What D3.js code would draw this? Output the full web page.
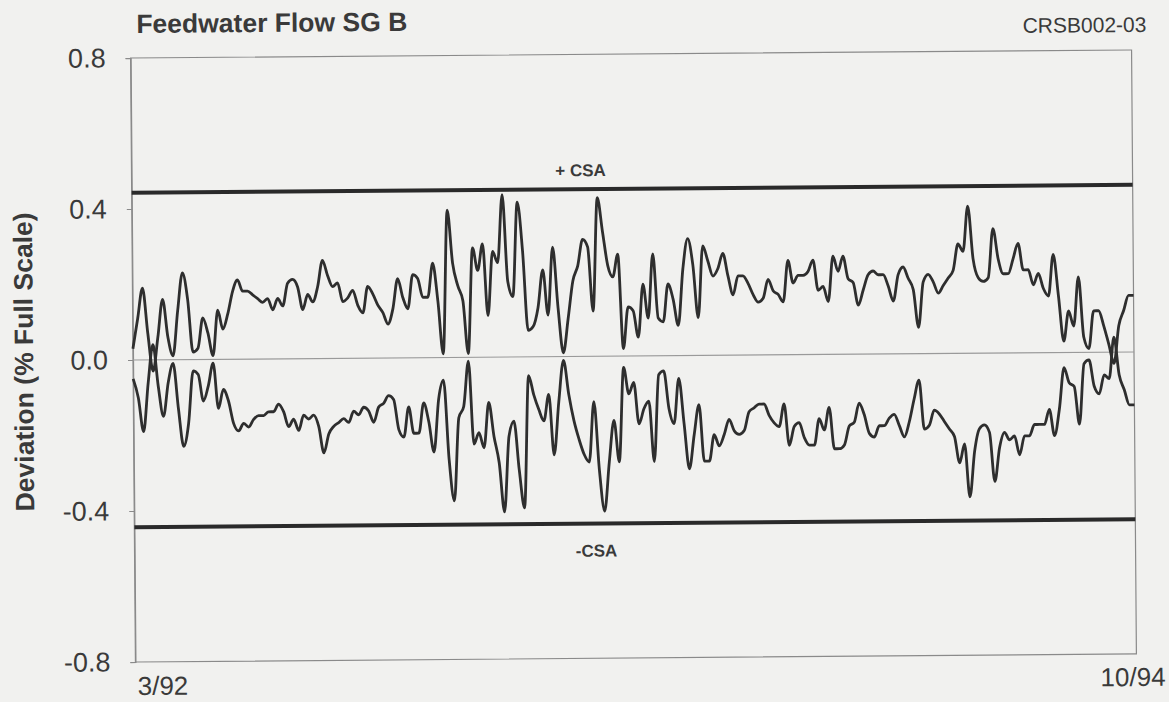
<!DOCTYPE html>
<html>
<head>
<meta charset="utf-8">
<script src="https://cdn.jsdelivr.net/npm/d3@7"></script>
<style>
  body { margin: 0; background: #f1f1ef; }
  text { font-family: "Liberation Sans", Arial, sans-serif; fill: #3a3a3a; }
</style>
</head>
<body>
<div id="chart"></div>
<script>
// chart data (equal spaced samples 3/92 .. 10/94)
var title = "Feedwater Flow SG B";
var docId = "CRSB002-03";
var yTitle = "Deviation (% Full Scale)";
var xLabels = ["3/92", "10/94"];
var yTicks = [0.8, 0.4, 0.0, -0.4, -0.8];
var yTickLabels = ["0.8", "0.4", "0.0", "-0.4", "-0.8"];
var csa = 0.443;
var csaLabels = ["+ CSA", "-CSA"];

var upper = [
  0.03, 0.11, 0.19, 0.07, -0.03, 0.06, 0.16, 0.06, 0.01, 0.13, 0.23, 0.16, 0.02, 0.03, 0.11, 0.07, 0.01,
  0.13, 0.08, 0.12, 0.18, 0.21, 0.18, 0.18, 0.17, 0.16, 0.15, 0.16, 0.13, 0.16, 0.14, 0.20, 0.21, 0.19,
  0.13, 0.17, 0.15, 0.19, 0.26, 0.22, 0.19, 0.20, 0.15, 0.16, 0.18, 0.14, 0.12, 0.19, 0.17, 0.14, 0.12,
  0.09, 0.13, 0.21, 0.16, 0.13, 0.22, 0.21, 0.16, 0.16, 0.25, 0.15, 0.01, 0.39, 0.25, 0.19, 0.15, 0.01,
  0.29, 0.23, 0.30, 0.11, 0.28, 0.25, 0.43, 0.20, 0.16, 0.41, 0.28, 0.07, 0.08, 0.13, 0.23, 0.11,
  0.29, 0.13, 0.01, 0.10, 0.20, 0.24, 0.31, 0.29, 0.12, 0.42, 0.33, 0.24, 0.21, 0.27, 0.02, 0.13,
  0.12, 0.05, 0.19, 0.10, 0.27, 0.10, 0.09, 0.19, 0.15, 0.08, 0.23, 0.31, 0.24, 0.10, 0.29, 0.25, 0.21,
  0.23, 0.27, 0.21, 0.16, 0.21, 0.21, 0.19, 0.16, 0.14, 0.15, 0.20, 0.17, 0.16, 0.14, 0.25, 0.19, 0.21,
  0.21, 0.22, 0.25, 0.17, 0.18, 0.14, 0.26, 0.22, 0.26, 0.20, 0.19, 0.13, 0.17, 0.21, 0.22, 0.21, 0.21,
  0.18, 0.14, 0.21, 0.23, 0.20, 0.17, 0.07, 0.19, 0.21, 0.19, 0.16, 0.18, 0.20, 0.22, 0.29, 0.27, 0.39,
  0.25, 0.20, 0.19, 0.20, 0.33, 0.25, 0.21, 0.21, 0.25, 0.29, 0.22, 0.22, 0.18, 0.21, 0.17, 0.15, 0.26,
  0.15, 0.03, 0.11, 0.07, 0.20, 0.04, 0.01, 0.11, 0.11, 0.07, 0.02, -0.03, 0.07, 0.11, 0.15, 0.15
];

var lower = [
  -0.05, -0.10, -0.19, -0.06, 0.04, -0.07, -0.15, -0.06, -0.01, -0.13, -0.23, -0.17, -0.03, -0.04, -0.11, -0.07, -0.01,
  -0.13, -0.08, -0.11, -0.17, -0.19, -0.17, -0.18, -0.16, -0.15, -0.15, -0.14, -0.14, -0.12, -0.14, -0.18, -0.16, -0.19,
  -0.15, -0.16, -0.15, -0.18, -0.25, -0.20, -0.18, -0.17, -0.16, -0.17, -0.14, -0.15, -0.13, -0.14, -0.17, -0.13, -0.12,
  -0.10, -0.11, -0.19, -0.21, -0.13, -0.20, -0.20, -0.12, -0.17, -0.25, -0.11, -0.06, -0.27, -0.38, -0.16, -0.13, -0.01,
  -0.23, -0.20, -0.24, -0.12, -0.21, -0.28, -0.41, -0.21, -0.17, -0.30, -0.40, -0.05, -0.10, -0.14, -0.17, -0.10,
  -0.26, -0.12, -0.01, -0.10, -0.17, -0.22, -0.26, -0.28, -0.12, -0.30, -0.41, -0.28, -0.17, -0.28, -0.03, -0.10,
  -0.07, -0.18, -0.14, -0.12, -0.28, -0.05, -0.04, -0.14, -0.18, -0.06, -0.18, -0.30, -0.21, -0.13, -0.28, -0.28, -0.21,
  -0.24, -0.21, -0.17, -0.20, -0.21, -0.20, -0.15, -0.14, -0.13, -0.13, -0.16, -0.18, -0.19, -0.13, -0.24, -0.19, -0.18,
  -0.22, -0.24, -0.24, -0.17, -0.20, -0.14, -0.25, -0.25, -0.24, -0.19, -0.18, -0.13, -0.16, -0.21, -0.22, -0.19, -0.19,
  -0.17, -0.16, -0.19, -0.22, -0.18, -0.12, -0.07, -0.20, -0.19, -0.15, -0.16, -0.18, -0.20, -0.22, -0.29, -0.24, -0.38,
  -0.26, -0.20, -0.19, -0.21, -0.34, -0.25, -0.21, -0.23, -0.22, -0.27, -0.22, -0.22, -0.19, -0.19, -0.19, -0.15, -0.22,
  -0.15, -0.04, -0.08, -0.09, -0.19, -0.03, -0.02, -0.09, -0.11, -0.06, -0.07, 0.04, -0.06, -0.10, -0.14, -0.14
];

// page setup
var svgWidth = 1169;
var svgHeight = 702;
var margin = {top: 54, right: 35, bottom: 44, left: 133};
var width = svgWidth - margin.left - margin.right;
var height = svgHeight - margin.top - margin.bottom;

var svg = d3.select("#chart").append("svg")
  .attr("width", svgWidth)
  .attr("height", svgHeight)
  .style("display", "block");

svg.append("rect").attr("width", svgWidth).attr("height", svgHeight).attr("fill", "#f1f1ef");

// the scanned page sits slightly skewed
var page = svg.append("g").attr("transform", "rotate(-0.46, 633, 356)");
var chartGroup = page.append("g").attr("transform", `translate(${margin.left}, ${margin.top})`);

// scales
var xScale = d3.scaleLinear().domain([0, upper.length - 1]).range([0, width]);
var yScale = d3.scaleLinear().domain([-0.8, 0.8]).range([height, 0]);

// frame
chartGroup.append("rect")
  .attr("width", width).attr("height", height)
  .attr("fill", "none").attr("stroke", "#8a8a8a").attr("stroke-width", 1.2);

// y axis
var leftAxis = d3.axisLeft(yScale)
  .tickValues(yTicks)
  .tickSize(5)
  .tickPadding(20)
  .tickFormat(function (d, i) { return yTickLabels[i]; });

var yAxisG = chartGroup.append("g").call(leftAxis);
yAxisG.select(".domain").attr("stroke", "#8a8a8a").attr("stroke-width", 1.2);
yAxisG.selectAll(".tick line").attr("stroke", "#8a8a8a");
yAxisG.selectAll(".tick text")
  .style("font-size", "27px")
  .style("font-family", "'Liberation Sans', Arial, sans-serif")
  .attr("fill", "#444");

// zero line
chartGroup.append("line")
  .attr("x1", 0).attr("x2", width)
  .attr("y1", yScale(0)).attr("y2", yScale(0))
  .attr("stroke", "#9a9a9a").attr("stroke-width", 1.2);

// CSA limits
[csa, -csa].forEach(function (v) {
  chartGroup.append("line")
    .attr("x1", 0).attr("x2", width)
    .attr("y1", yScale(v)).attr("y2", yScale(v))
    .attr("stroke", "#2a2a2a").attr("stroke-width", 4);
});

chartGroup.append("text")
  .attr("x", 449).attr("y", yScale(csa) - 13)
  .attr("text-anchor", "middle")
  .style("font-size", "17px").style("font-weight", "bold")
  .text(csaLabels[0]);

chartGroup.append("text")
  .attr("x", 462).attr("y", yScale(-csa) + 33)
  .attr("text-anchor", "middle")
  .style("font-size", "17px").style("font-weight", "bold")
  .text(csaLabels[1]);

// series
var line = d3.line()
  .x(function (d, i) { return xScale(i); })
  .y(function (d) { return yScale(d); })
  .curve(d3.curveMonotoneX);

[upper, lower].forEach(function (series) {
  chartGroup.append("path")
    .datum(series)
    .attr("d", line)
    .attr("fill", "none")
    .attr("stroke", "#2e2e2e")
    .attr("stroke-width", 2.8)
    .attr("stroke-linejoin", "round");
});

// x labels at the ends of the record
chartGroup.append("text")
  .attr("x", xScale(0) + 2).attr("y", height + 33)
  .style("font-size", "26px")
  .text(xLabels[0]);

chartGroup.append("text")
  .attr("x", xScale(upper.length - 1) + 29).attr("y", height + 32)
  .attr("text-anchor", "end")
  .style("font-size", "26px")
  .text(xLabels[1]);

// titles
page.append("text")
  .attr("x", 139).attr("y", 29)
  .style("font-size", "26.5px").style("font-weight", "bold")
  .text(title);

page.append("text")
  .attr("x", 1149).attr("y", 36)
  .attr("text-anchor", "end")
  .style("font-size", "21px")
  .text(docId);

page.append("text")
  .attr("transform", "translate(33, 357) rotate(-90)")
  .attr("text-anchor", "middle")
  .style("font-size", "26.5px").style("font-weight", "bold")
  .text(yTitle);
</script>
</body>
</html>
